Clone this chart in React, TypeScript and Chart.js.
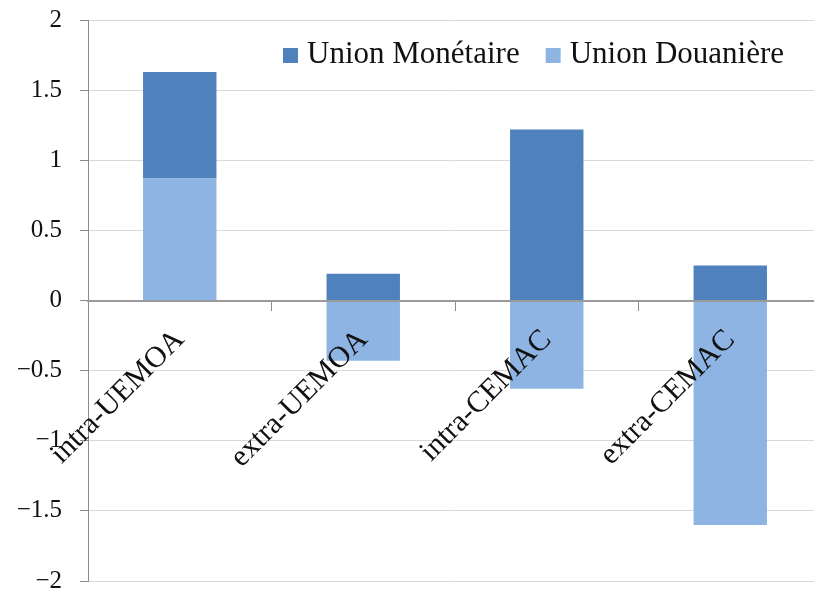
import React, { useEffect, useRef } from "react";
import { Chart, registerables } from "chart.js";

Chart.register(...registerables);

const categories = ["intra-UEMOA", "extra-UEMOA", "intra-CEMAC", "extra-CEMAC"];
const seriesNames = ["Union Douanière", "Union Monétaire"];
const unionDouaniere = [0.87, -0.43, -0.63, -1.6];
const unionMonetaire = [0.76, 0.19, 1.22, 0.25];
const yMin = -2;
const yMax = 2;
const yStep = 0.5;

const COLOR_DOUANE = "#8EB4E3";
const COLOR_MONET = "#4F81BD";
const SERIF = '"Liberation Serif", "Times New Roman", serif';

const insideLegend = {
  id: "insideLegend",
  afterDraw(chart: any) {
    const { ctx, chartArea } = chart;
    ctx.save();
    ctx.font = `31px ${SERIF}`;
    ctx.textBaseline = "alphabetic";
    ctx.textAlign = "left";
    let x = chartArea.left + 195;
    const baseline = chartArea.top + 43;
    const items = chart.data.datasets
      .map((d: any) => ({ label: d.label, color: d.backgroundColor }))
      .reverse();
    for (const it of items) {
      ctx.fillStyle = it.color;
      ctx.fillRect(x, baseline - 15, 15, 15);
      x += 15 + 9;
      ctx.fillStyle = "#111";
      ctx.fillText(it.label, x, baseline);
      x += ctx.measureText(it.label).width + 26;
    }
    ctx.restore();
  },
};

export default function App() {
  const ref = useRef<HTMLCanvasElement | null>(null);

  useEffect(() => {
    if (!ref.current) return;
    const chart = new Chart(ref.current, {
      type: "bar",
      data: {
        labels: categories,
        datasets: [
          {
            label: seriesNames[0],
            data: unionDouaniere,
            backgroundColor: COLOR_DOUANE,
            barPercentage: 0.4,
            categoryPercentage: 1,
          },
          {
            label: seriesNames[1],
            data: unionMonetaire,
            backgroundColor: COLOR_MONET,
            barPercentage: 0.4,
            categoryPercentage: 1,
          },
        ],
      },
      options: {
        animation: false,
        responsive: false,
        devicePixelRatio: 1,
        layout: { padding: { left: 0, right: 8, top: 20, bottom: 9 } },
        plugins: {
          legend: { display: false },
          tooltip: { enabled: false },
        },
        scales: {
          x: {
            stacked: true,
            position: { y: 0 } as any,
            offset: true,
            grid: {
              display: true,
              drawOnChartArea: false,
              drawTicks: true,
              tickLength: 9,
              offset: true,
              tickColor: "#8c8c8c",
            },
            border: { display: true, color: "#9a9a9a", width: 2, z: 1 },
            ticks: {
              z: 1,
              minRotation: 45,
              maxRotation: 45,
              padding: 13,
              color: "#111",
              font: { family: SERIF, size: 30 },
            },
            afterFit(scale: any) {
              scale.height = 0;
              scale.paddingLeft = 0;
              scale.paddingRight = 0;
            },
          },
          y: {
            stacked: true,
            min: yMin,
            max: yMax,
            ticks: {
              stepSize: yStep,
              padding: 18,
              color: "#111",
              font: { family: SERIF, size: 25 },
              callback: (v: any) => String(v).replace("-", "\u2212"),
            },
            grid: {
              color: "#d9d9d9",
              tickColor: "#8c8c8c",
              tickLength: 8,
              lineWidth: 1,
            },
            border: { display: true, color: "#8c8c8c", width: 1 },
            afterFit(scale: any) {
              scale.width = 88;
              scale.paddingTop = 0;
              scale.paddingBottom = 0;
            },
          },
        },
      },
      plugins: [insideLegend],
    });
    return () => chart.destroy();
  }, []);

  return (
    <div
      style={{
        position: "fixed",
        left: 0,
        top: 0,
        width: "100vw",
        height: "100vh",
        overflow: "hidden",
        background: "#fff",
      }}
    >
      <canvas ref={ref} width={830} height={590} style={{ width: 830, height: 590, display: "block" }} />
    </div>
  );
}
